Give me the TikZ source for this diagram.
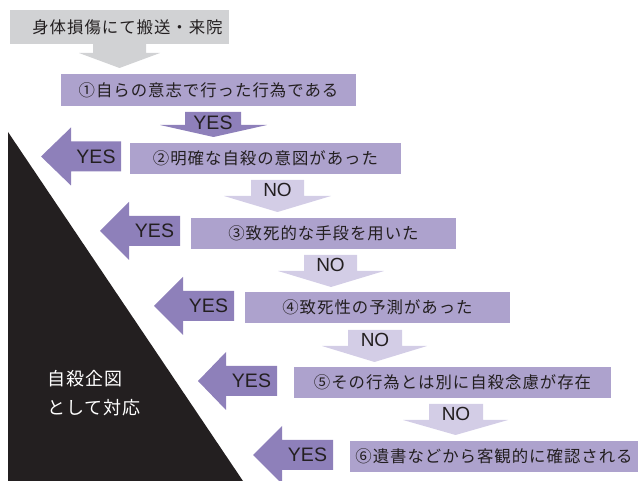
\documentclass[tikz,border=0pt]{standalone}
\usepackage{fontspec}
\newfontfamily\jpfont{Noto Sans CJK JP}[LetterSpace=6]
\newfontfamily\lsans{Liberation Sans}
\definecolor{graybox}{HTML}{D1D2D4}
\definecolor{qpurple}{HTML}{ADA2CD}
\definecolor{yespurple}{HTML}{8E80BA}
\definecolor{nopurple}{HTML}{D3CDE6}
\definecolor{inkdark}{HTML}{231F20}
\tikzset{
  qbox/.style={fill=qpurple, inner sep=0pt, text=inkdark, font=\jpfont\fontsize{16.4}{18}\selectfont},
  startbox/.style={fill=graybox, inner sep=0pt},
  qtext/.style={inner sep=0pt, text=inkdark, font=\jpfont\fontsize{16.4}{18}\selectfont},
  yesarrow/.style={fill=yespurple},
  noarrow/.style={fill=nopurple},
  grayarrow/.style={fill=graybox},
  yeslbl/.style={inner sep=0pt, anchor=base, text=inkdark, font=\lsans\fontsize{19.5}{22}\selectfont},
  nolbl/.style={inner sep=0pt, anchor=base, text=inkdark, font=\lsans\fontsize{19}{22}\selectfont},
  restext/.style={inner sep=0pt, anchor=west, text=white, font=\jpfont\fontsize{18}{20}\selectfont},
}
\begin{document}
\begin{tikzpicture}[x=1pt,y=-1pt]
\useasboundingbox (0,0) rectangle (641,481);
% black triangle
\fill[inkdark] (8,132) -- (8,481) -- (243,481) -- cycle;
\node[restext] (r1) at (47,379) {自殺企図};
\node[restext] (r2) at (47,407.5) {として対応};
% start box
\node[startbox, minimum width=219pt, minimum height=34pt] (s) at (119.5,27) {};
\node[qtext] (st) at (127.5,27) {身体損傷にて搬送・来院};
\fill[grayarrow] (93,44) -- (146,44) -- (146,53) -- (160,53) -- (119.5,68) -- (79,53) -- (93,53) -- cycle;
% question boxes
\node[qbox, minimum width=295pt, minimum height=32pt] (b1) at (208.5,90) {①自らの意志で行った行為である};
\node[qbox, minimum width=271pt, minimum height=31pt] (b2) at (265.5,158.5) {②明確な自殺の意図があった};
\node[qbox, minimum width=265pt, minimum height=31pt] (b3) at (323.5,233.5) {③致死的な手段を用いた};
\node[qbox, minimum width=265pt, minimum height=31pt] (b4) at (377.5,307.5) {④致死性の予測があった};
\node[qbox, minimum width=317pt, minimum height=31pt] (b5) at (452.5,382.5) {⑤その行為とは別に自殺念慮が存在};
\node[qbox, minimum width=288pt, minimum height=31pt] (b6) at (494,456.5) {⑥遺書などから客観的に確認される};
% YES down arrow
\fill[yesarrow] (185,112) -- (241,112) -- (241,125) -- (267,125) -- (213.5,137) -- (160,125) -- (185,125) -- cycle;
\node[yeslbl] (y1) at (213,130) {YES};
% NO down arrows
\fill[noarrow] (251,180) -- (304,180) -- (304,196) -- (331,196) -- (277.5,212) -- (224,196) -- (251,196) -- cycle;
\node[nolbl] (n2) at (277.5,197) {NO};
\fill[noarrow] (304,255) -- (357,255) -- (357,271) -- (384,271) -- (331,287) -- (278,271) -- (304,271) -- cycle;
\node[nolbl] (n3) at (330.5,272) {NO};
\fill[noarrow] (348,330) -- (402,330) -- (402,346) -- (427,346) -- (374.5,362) -- (322,346) -- (348,346) -- cycle;
\node[nolbl] (n4) at (375,347) {NO};
\fill[noarrow] (429,404) -- (483,404) -- (483,420) -- (508,420) -- (455.5,435) -- (403,420) -- (429,420) -- cycle;
\node[nolbl] (n5) at (456,421) {NO};
% YES left arrows
\fill[yesarrow] (121,141.5) -- (121,171.5) -- (71,171.5) -- (71,185.5) -- (41,156.5) -- (71,127.5) -- (71,141.5) -- cycle;
\node[yeslbl] (y2) at (96,163.5) {YES};
\fill[yesarrow] (180,216) -- (180,246) -- (129,246) -- (129,260) -- (100,231) -- (129,202) -- (129,216) -- cycle;
\node[yeslbl] (y3) at (154.5,238) {YES};
\fill[yesarrow] (234,291) -- (234,321) -- (183,321) -- (183,335) -- (154,306) -- (183,277) -- (183,291) -- cycle;
\node[yeslbl] (y4) at (208.5,313) {YES};
\fill[yesarrow] (277,366) -- (277,396) -- (226,396) -- (226,410) -- (198,381) -- (226,352) -- (226,366) -- cycle;
\node[yeslbl] (y5) at (251.5,388) {YES};
\fill[yesarrow] (333,440) -- (333,470) -- (282,470) -- (282,484) -- (253,455) -- (282,426) -- (282,440) -- cycle;
\node[yeslbl] (y6) at (307.5,462) {YES};
\end{tikzpicture}
\end{document}
